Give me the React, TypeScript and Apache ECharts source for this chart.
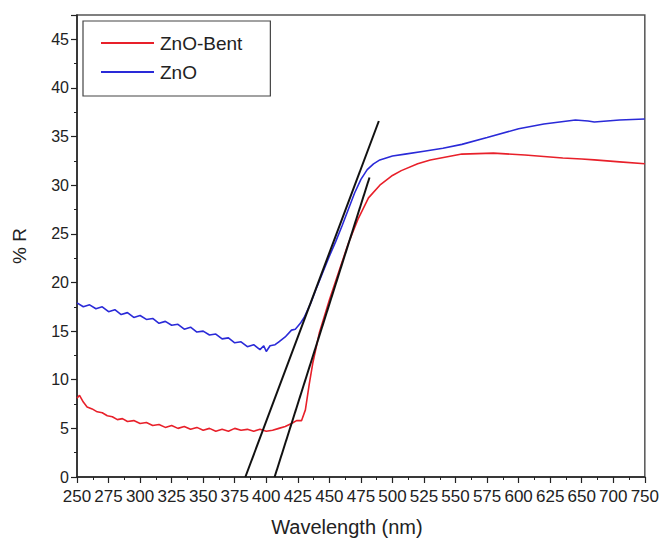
import React, { useEffect, useRef } from "react";
import * as echarts from "echarts";

// x tick labels as printed on the reference axis (675 is absent there)
const TICK_LABELS = ["250", "275", "300", "325", "350", "375", "400", "425", "450", "475", "500", "525", "550", "575", "600", "625", "650", "700", "750"];

const ZNO_WL = [250, 255, 260, 265, 270, 275, 280, 285, 290, 295, 300, 305, 310, 315, 320, 325, 330, 335, 340, 345, 350, 355, 360, 365, 370, 375, 380, 385, 390, 395, 398, 400, 403, 407, 410, 415, 420, 423, 427, 430, 435, 440, 445, 450, 455, 460, 465, 470, 475, 480, 485, 490, 500, 510, 525, 540, 555, 575, 600, 620, 645, 660, 670, 690, 710, 750];
const ZNO_R = [17.9, 17.5, 17.7, 17.3, 17.5, 17.0, 17.2, 16.7, 16.9, 16.4, 16.6, 16.2, 16.3, 15.8, 16.0, 15.6, 15.7, 15.2, 15.4, 14.9, 15.0, 14.6, 14.7, 14.2, 14.3, 13.8, 13.9, 13.4, 13.6, 13.1, 13.5, 12.9, 13.5, 13.6, 13.9, 14.4, 15.1, 15.2, 15.8, 16.4, 17.8, 19.5, 21.1, 22.7, 24.2, 25.8, 27.5, 29.2, 30.6, 31.6, 32.2, 32.6, 33.0, 33.2, 33.5, 33.8, 34.2, 34.9, 35.8, 36.3, 36.7, 36.6, 36.5, 36.6, 36.7, 36.8];

const BENT_WL = [250, 252, 255, 258, 262, 266, 270, 274, 278, 282, 286, 290, 295, 300, 305, 310, 315, 320, 325, 330, 335, 340, 345, 350, 355, 360, 365, 370, 375, 380, 385, 390, 395, 400, 405, 410, 415, 420, 424, 428, 431, 434, 437, 442, 450, 458, 465, 473, 481, 490, 500, 507, 520, 530, 555, 580, 605, 635, 650, 670, 710, 750];
const BENT_R = [8.1, 8.4, 7.7, 7.2, 7.0, 6.7, 6.6, 6.3, 6.2, 5.9, 6.0, 5.7, 5.8, 5.5, 5.6, 5.3, 5.4, 5.1, 5.3, 5.0, 5.2, 4.9, 5.1, 4.8, 5.0, 4.7, 4.9, 4.7, 5.0, 4.8, 4.9, 4.7, 4.9, 4.7, 4.8, 5.0, 5.2, 5.5, 5.8, 5.8, 6.9, 9.5, 11.8, 14.8, 18.2, 21.3, 24.0, 26.6, 28.7, 30.0, 31.0, 31.5, 32.2, 32.6, 33.2, 33.3, 33.1, 32.8, 32.7, 32.6, 32.4, 32.2];

const TANGENT1_WL = [383.4, 489.2];
const TANGENT1_R = [0, 36.6];
const TANGENT2_WL = [406.6, 481.8];
const TANGENT2_R = [0, 30.8];

// the reference axis is equally spaced per printed label: 25 nm steps up to 650, then 50 nm steps
function toTick(wl: number): number {
  return wl <= 650 ? (wl - 250) / 25 : 16 + (wl - 650) / 50;
}
function pairs(xs: number[], ys: number[]) {
  return xs.map((x, i) => [toTick(x), ys[i]]);
}

const FONT = "'Liberation Sans', Arial, sans-serif";

export default function App() {
  const ref = useRef<HTMLDivElement>(null);
  useEffect(() => {
    if (!ref.current) return;
    const chart = echarts.init(ref.current, null, { renderer: "svg" });
    chart.setOption({
      animation: false,
      backgroundColor: "#ffffff",
      grid: {
        left: 77,
        right: 15,
        top: 15,
        bottom: 66,
        show: true,
        borderColor: "#555",
        borderWidth: 1.5,
        backgroundColor: "transparent",
      },
      legend: {
        orient: "vertical",
        left: 83,
        top: 21,
        data: ["ZnO-Bent", "ZnO"],
        icon: "rect",
        itemWidth: 53,
        itemHeight: 2,
        itemGap: 7,
        padding: [11, 28, 13, 18],
        borderColor: "#444",
        borderWidth: 1.2,
        borderRadius: 0,
        backgroundColor: "#fff",
        textStyle: { fontFamily: FONT, fontSize: 19, color: "#222", lineHeight: 22, padding: [0, 0, 0, 1] },
      },
      xAxis: {
        type: "value",
        min: 0,
        max: 18,
        interval: 1,
        name: "Wavelength (nm)",
        nameLocation: "middle",
        nameGap: 40,
        nameTextStyle: { fontFamily: FONT, fontSize: 20, color: "#222", padding: [0, 28, 0, 0] },
        axisLine: { show: true, onZero: false, lineStyle: { color: "#222", width: 1.5 } },
        axisTick: { show: true, inside: false, length: 6, lineStyle: { color: "#222", width: 1.2 } },
        minorTick: { show: true, splitNumber: 2, length: 3, lineStyle: { color: "#222", width: 1 } },
        axisLabel: {
          fontFamily: FONT,
          fontSize: 17,
          color: "#222",
          margin: 11,
          lineHeight: 17,
          formatter: (v: number) => TICK_LABELS[Math.round(v)] ?? "",
        },
        splitLine: { show: false },
      },
      yAxis: {
        type: "value",
        min: 0,
        max: 47.5,
        interval: 5,
        name: "% R",
        nameLocation: "middle",
        nameGap: 48,
        nameRotate: 90,
        nameTextStyle: { fontFamily: FONT, fontSize: 19, color: "#222" },
        axisLine: { show: true, onZero: false, lineStyle: { color: "#222", width: 1.5 } },
        axisTick: { show: true, inside: false, length: 6, lineStyle: { color: "#222", width: 1.2 } },
        minorTick: { show: true, splitNumber: 2, length: 3, lineStyle: { color: "#222", width: 1 } },
        axisLabel: {
          fontFamily: FONT,
          fontSize: 16,
          color: "#222",
          margin: 8,
          lineHeight: 16,
          showMaxLabel: false,
          formatter: (v: number) => (v % 5 === 0 ? String(v) : ""),
        },
        splitLine: { show: false },
      },
      series: [
        {
          name: "ZnO-Bent",
          type: "line",
          data: pairs(BENT_WL, BENT_R),
          showSymbol: false,
          symbol: "none",
          lineStyle: { color: "#e8202a", width: 1.6 },
          itemStyle: { color: "#e8202a" },
          z: 3,
        },
        {
          name: "ZnO",
          type: "line",
          data: pairs(ZNO_WL, ZNO_R),
          showSymbol: false,
          symbol: "none",
          lineStyle: { color: "#2a2ad8", width: 1.6 },
          itemStyle: { color: "#2a2ad8" },
          z: 3,
        },
        {
          name: "tangent1",
          type: "line",
          data: pairs(TANGENT1_WL, TANGENT1_R),
          showSymbol: false,
          symbol: "none",
          lineStyle: { color: "#111", width: 2 },
          z: 4,
        },
        {
          name: "tangent2",
          type: "line",
          data: pairs(TANGENT2_WL, TANGENT2_R),
          showSymbol: false,
          symbol: "none",
          lineStyle: { color: "#111", width: 2 },
          z: 4,
        },
      ],
    });
    return () => chart.dispose();
  }, []);
  return <div ref={ref} style={{ position: "fixed", left: 0, top: 0, width: 662, height: 543 }} />;
}
